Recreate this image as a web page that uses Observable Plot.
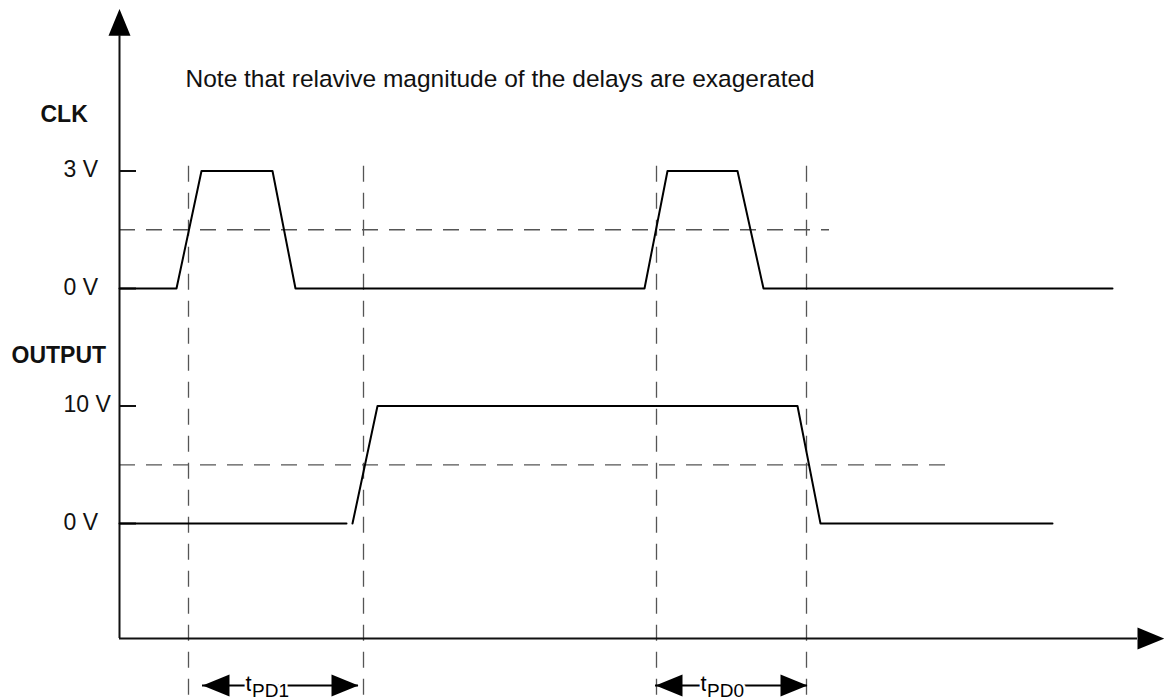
<!DOCTYPE html>
<html><head><meta charset="utf-8">
<script src="https://cdn.jsdelivr.net/npm/d3@7"></script>
<script src="https://cdn.jsdelivr.net/npm/@observablehq/plot@0.6"></script>
<style>body{margin:0;background:#fff}</style>
</head><body><div id="chart"></div>
<script>
// ---- data (time in arbitrary units, voltages in volts) ----
const clkTimes = [0, 5.7, 8.2, 15.3, 17.6, 52.5, 54.8, 61.8, 64.4, 99.3];
const clkVolts = [0, 0, 3, 3, 0, 0, 3, 3, 0, 0];
const outTimes = [0, 22.7, 23.3, 25.8, 67.8, 70.1, 93.3];
const outVolts = [0, 0, 0, 10, 10, 0, 0];
const outPiece = [0, 0, 1, 1, 1, 1, 1];
const laneNames = ["CLK", "OUTPUT"];
const laneMax = [3, 10];
const laneBase = [2, 0];
const levelLabels = [["0 V", "3 V"], ["0 V", "10 V"]];
const thresholdEnd = [71.0, 82.6];
const crossTimes = [6.9, 24.4, 53.7, 68.7];
const delayNames = ["PD1", "PD0"];
const delayFrom = [8.3, 53.6];
const delayTo = [23.9, 68.8];
const delayTextAt = [12.6, 58.1];
const note = "Note that relavive magnitude of the delays are exagerated";

// ---- frame (diagram units) ----
const xDomain = [-11.9, 104.5];
const yDomain = [-1.506, 4.451];
const axisFloor = -0.979, axisTop = 4.15, timeEnd = 101.8;
const crossTop = 3.04, crossBottom = -1.51;
const delayLevel = -1.379;
const W = 1164, H = 700;
const pxPerX = W / (xDomain[1] - xDomain[0]);

const lane = (i, v) => laneBase[i] + v / laneMax[i];
const clk = clkTimes.map((t, k) => ({t, y: lane(0, clkVolts[k])}));
const out = outTimes.map((t, k) => ({t, y: lane(1, outVolts[k]), piece: outPiece[k]}));
const levels = [];
levelLabels.forEach((pair, i) => pair.forEach((lab, j) => levels.push({lab, y: lane(i, j * laneMax[i])})));
const thresholds = laneNames.map((n, i) => ({y: lane(i, laneMax[i] / 2), x2: thresholdEnd[i]}));
const names = laneNames.map((n, i) => ({n, y: lane(i, laneMax[i]) + (i === 0 ? 0.42 : 0.37), x: i === 0 ? -7.9 : -10.8}));

const head = {draw(ctx, size) { const r = Math.sqrt(size / Math.PI); ctx.moveTo(0, -2.45 * r); ctx.lineTo(r, 0); ctx.lineTo(-r, 0); ctx.closePath(); }};
const headLen = 27 / pxPerX;
const heads = [{x: 0, y: axisTop, rot: 0}, {x: timeEnd, y: axisFloor, rot: 90}];
delayFrom.forEach((f, i) => {
  heads.push({x: f + headLen, y: delayLevel, rot: -90});
  heads.push({x: delayTo[i] - headLen, y: delayLevel, rot: 90});
});
const delays = delayNames.map((n, i) => ({n, x1: delayFrom[i], x2: delayTo[i], tx: delayTextAt[i]}));

const font = "'Liberation Sans', Arial, sans-serif";
const dash = "16,11";
const plot = Plot.plot({
  width: W, height: H, margin: 0,
  x: {domain: xDomain, axis: null},
  y: {domain: yDomain, axis: null},
  style: {fontFamily: font, background: "#fff", overflow: "visible"},
  marks: [
    Plot.ruleX(crossTimes, {y1: crossTop, y2: crossBottom, stroke: "#555", strokeWidth: 1.3, strokeDasharray: dash}),
    Plot.ruleY(thresholds, {y: "y", x1: 0, x2: "x2", stroke: "#555", strokeWidth: 1.3, strokeDasharray: dash}),
    Plot.ruleY([axisFloor], {x1: 0, x2: timeEnd, stroke: "#111", strokeWidth: 2}),
    Plot.ruleX([0], {y1: axisFloor, y2: axisTop, stroke: "#111", strokeWidth: 2}),
    Plot.ruleY(levels, {y: "y", x1: 0, x2: 1.7, stroke: "#111", strokeWidth: 2}),
    Plot.line(clk, {x: "t", y: "y", stroke: "#000", strokeWidth: 2}),
    Plot.line(out, {x: "t", y: "y", z: "piece", stroke: "#000", strokeWidth: 2}),
    Plot.text(levels, {x: -5.6, y: "y", text: "lab", textAnchor: "start", fontSize: 23, dy: -1, fill: "#111"}),
    Plot.text(names, {x: "x", y: "y", text: "n", textAnchor: "start", lineAnchor: "bottom", fontSize: 23, fontWeight: "bold", fill: "#111"}),
    Plot.text([note], {x: 6.6, y: 3.719, text: d => d, textAnchor: "start", lineAnchor: "bottom", fontSize: 24.5, fill: "#111"}),
    Plot.ruleY(delays, {y: delayLevel, x1: "x1", x2: "x2", stroke: "#000", strokeWidth: 2}),
    Plot.text(delays, {x: "tx", y: delayLevel, text: () => "t", textAnchor: "start", lineAnchor: "bottom", dy: 5, fontSize: 22, fill: "#000", stroke: "#fff", strokeWidth: 5, paintOrder: "stroke"}),
    Plot.text(delays, {x: "tx", y: delayLevel, text: "n", textAnchor: "start", lineAnchor: "bottom", dx: 6.5, dy: 11, fontSize: 19, fill: "#000", stroke: "#fff", strokeWidth: 5, paintOrder: "stroke"}),
    Plot.dot(heads, {x: "x", y: "y", rotate: "rot", symbol: head, r: 11, fill: "#000", stroke: "none"})
  ]
});
document.getElementById("chart").append(plot);
</script>
</body></html>
